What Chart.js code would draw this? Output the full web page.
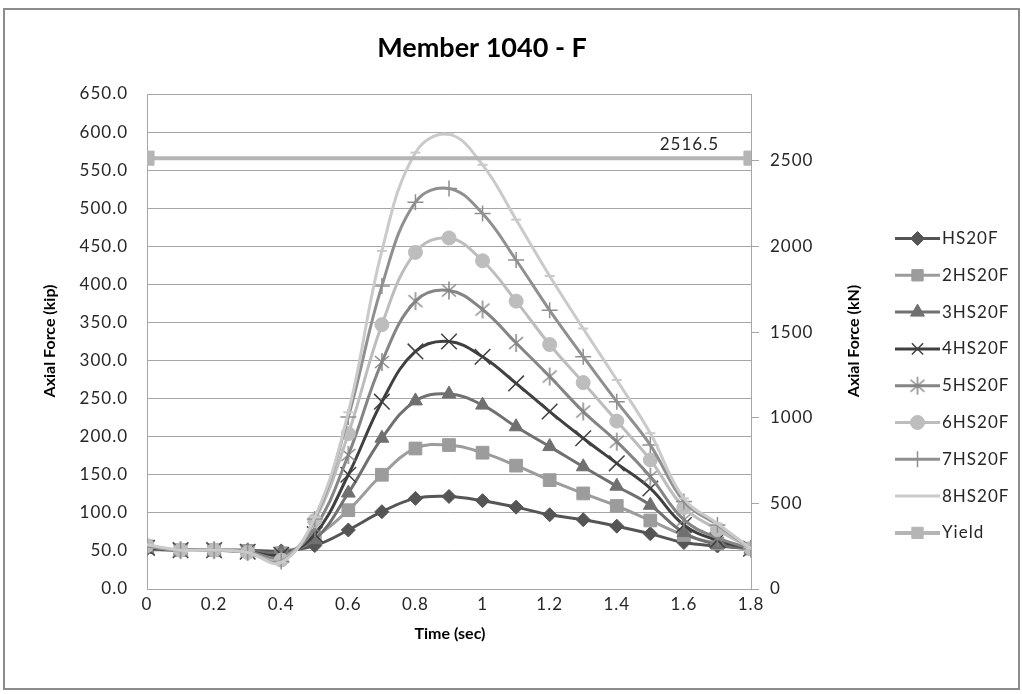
<!DOCTYPE html>
<html>
<head>
<meta charset="utf-8">
<title>Member 1040 - F</title>
<script src="https://cdn.jsdelivr.net/npm/chart.js@4.4.1/dist/chart.umd.min.js"></script>
<style>
  html, body { margin: 0; padding: 0; background: #ffffff; }
  canvas { display: block; }
</style>
</head>
<body>
<canvas id="chart" width="1022" height="694"></canvas>
<script>
// Time steps (sec)
const time = [0, 0.1, 0.2, 0.3, 0.4, 0.5, 0.6, 0.7, 0.8, 0.9, 1.0, 1.1, 1.2, 1.3, 1.4, 1.5, 1.6, 1.7, 1.8];

// Axial force per load case (kip)
const hs20f  = [53, 51, 51, 51, 50, 57,  77.5, 101.5, 119, 121.5, 116, 107.5,  97.5,  91,   82.5,  72.5,  61, 56.5, 53];
const hs20f2 = [56, 51, 51, 50, 47, 68, 103.5, 150,   184.5, 189, 179, 162,   143,   125.5, 109,   90,    71, 60,   53];
const hs20f3 = [52, 51, 51, 50, 48, 65, 126,   198,   247, 256,   241.5, 213, 187,   160.5, 135,   110,   74, 58.5, 53];
const hs20f4 = [54, 51, 51, 49, 45, 72, 150,   246,   312, 325,   305, 270,   233,   198,   165,   132,   84, 64,   53];
const hs20f5 = [55, 51, 51, 49, 42, 80, 176,   298,   378, 392,   367, 323,   279,   233,   193.5, 147.5, 91, 67,   53];
const hs20f6 = [57, 51, 51, 48, 38, 90, 204,   347,   442, 461,   431, 378,   321,   271,   220.5, 169.5, 107, 78,  53];
const hs20f7 = [56, 51, 51, 48, 36, 92, 226,   398,   508, 526,   493, 432,   366,   305,   246,   189,   115, 84,  53];
const hs20f8 = [58, 51, 51, 48, 35, 94, 232,   444,   573, 597,   557, 485,   411,   342,   274.5, 204.5, 119, 86,  53];

// Yield capacity (kN), drawn against the right axis
const yieldTime = [0, 1.8];
const yieldKN = [2516.5, 2516.5];

// Axis ticks
const kipTicks = [0, 50, 100, 150, 200, 250, 300, 350, 400, 450, 500, 550, 600, 650];
const kNTicks = [0, 500, 1000, 1500, 2000, 2500];
const timeTicks = [0, 0.2, 0.4, 0.6, 0.8, 1.0, 1.2, 1.4, 1.6, 1.8];

const KIP_TO_KN = 4.448;
const FONT = 'Lato, "Open Sans", sans-serif';
const TEXT = '#262626';
const GRID = '#a6a6a6';

// Asterisk marker: an "x" with a vertical bar through it
function asteriskMarker(color) {
  const c = document.createElement('canvas');
  c.width = 20; c.height = 20;
  const g = c.getContext('2d');
  g.strokeStyle = color;
  g.lineWidth = 1.5;
  g.beginPath();
  g.moveTo(3, 4); g.lineTo(17, 16);
  g.moveTo(17, 4); g.lineTo(3, 16);
  g.moveTo(10, 1); g.lineTo(10, 19);
  g.stroke();
  return c;
}

const seriesDefs = [
  { label: 'HS20F',  values: hs20f,  color: '#555555', style: 'rectRot',  radius: 7,  bw: 1 },
  { label: '2HS20F', values: hs20f2, color: '#9c9c9c', style: 'rect',     radius: 9,  bw: 1 },
  { label: '3HS20F', values: hs20f3, color: '#707070', style: 'triangle', radius: 8,  bw: 1 },
  { label: '4HS20F', values: hs20f4, color: '#404040', style: 'crossRot', radius: 11, bw: 1.5 },
  { label: '5HS20F', values: hs20f5, color: '#858585', style: asteriskMarker('#858585'), radius: 9, bw: 1.5 },
  { label: '6HS20F', values: hs20f6, color: '#bdbdbd', style: 'circle',   radius: 7,  bw: 1 },
  { label: '7HS20F', values: hs20f7, color: '#909090', style: 'cross',    radius: 8,  bw: 1.5 },
  { label: '8HS20F', values: hs20f8, color: '#cacaca', style: 'line',     radius: 5,  bw: 2 }
];

const datasets = seriesDefs.map((s, i) => ({
  label: s.label,
  data: time.map((t, k) => ({ x: t, y: s.values[k] })),
  yAxisID: 'y',
  borderColor: s.color,
  backgroundColor: s.color,
  borderWidth: 3,
  tension: 0.4,
  pointStyle: s.style,
  pointRadius: s.radius,
  pointBorderWidth: s.bw,
  pointBackgroundColor: s.color,
  pointBorderColor: s.color,
  order: 20 - i
}));

datasets.push({
  label: 'Yield',
  data: yieldTime.map((t, k) => ({ x: t, y: yieldKN[k] })),
  yAxisID: 'y2',
  borderColor: '#b5b5b5',
  backgroundColor: '#b5b5b5',
  borderWidth: 4,
  tension: 0,
  pointStyle: 'rect',
  pointRadius: 10,
  pointBorderWidth: 1,
  pointBackgroundColor: '#b5b5b5',
  pointBorderColor: '#b5b5b5',
  order: 0
});

const legendStyle = {
  'Yield': { style: 'rect', radius: 9, bw: 1, color: '#b5b5b5' }
};

// Page furniture: background, frame, title, axis titles, legend and value label
const decorations = {
  id: 'decorations',
  beforeDraw(chart) {
    const ctx = chart.ctx;
    ctx.save();
    ctx.fillStyle = '#ffffff';
    ctx.fillRect(0, 0, chart.width, chart.height);
    ctx.strokeStyle = '#8c8c8c';
    ctx.lineWidth = 2;
    ctx.strokeRect(4, 9, 1015, 680);
    ctx.restore();
    ctx.letterSpacing = '1px';
  },
  afterDraw(chart) {
    const ctx = chart.ctx;
    ctx.save();
    ctx.letterSpacing = '0px';
    ctx.fillStyle = '#000000';
    ctx.textAlign = 'center';
    ctx.textBaseline = 'middle';
    ctx.font = 'bold 27px ' + FONT;
    ctx.fillText('Member 1040 - F', 482, 48);

    ctx.font = 'bold 16px ' + FONT;
    ctx.fillText('Time (sec)', 450, 634);
    ctx.save();
    ctx.translate(50, 341);
    ctx.rotate(-Math.PI / 2);
    ctx.fillText('Axial Force (kip)', 0, 0);
    ctx.restore();
    ctx.save();
    ctx.translate(854, 341);
    ctx.rotate(-Math.PI / 2);
    ctx.fillText('Axial Force (kN)', 0, 0);
    ctx.restore();

    // value label on the yield line
    const ymeta = chart.getDatasetMeta(chart.data.datasets.length - 1);
    const last = ymeta.data[ymeta.data.length - 1];
    ctx.letterSpacing = '1px';
    ctx.font = '17px ' + FONT;
    ctx.fillStyle = TEXT;
    ctx.textAlign = 'right';
    ctx.fillText(yieldKN[yieldKN.length - 1].toFixed(1), last.x - 32, last.y - 14);

    // legend
    ctx.textAlign = 'left';
    chart.data.datasets.forEach((ds, i) => {
      const y = 238.5 + i * 36.8;
      const def = seriesDefs[i] || legendStyle[ds.label];
      const color = def.color;
      ctx.strokeStyle = color;
      ctx.fillStyle = color;
      ctx.lineWidth = ds.label === 'Yield' ? 4 : 3;
      ctx.beginPath();
      ctx.moveTo(895, y);
      ctx.lineTo(940, y);
      ctx.stroke();
      if (def.style !== 'line') {
        ctx.lineWidth = def.bw;
        Chart.helpers.drawPoint(ctx, {
          pointStyle: def.style,
          radius: Math.min(def.radius, 8),
          rotation: 0,
          borderWidth: def.bw
        }, 917.5, y);
      }
      ctx.fillStyle = TEXT;
      ctx.fillText(ds.label, 942, y);
    });
    ctx.restore();
  }
};

new Chart(document.getElementById('chart'), {
  type: 'line',
  data: { datasets },
  options: {
    responsive: false,
    animation: false,
    devicePixelRatio: 1,
    layout: { padding: { top: 94, left: 0, right: 0, bottom: 0 } },
    plugins: {
      legend: { display: false },
      tooltip: { enabled: false },
      title: { display: false }
    },
    scales: {
      x: {
        type: 'linear',
        min: 0,
        max: 1.8,
        afterBuildTicks: s => { s.ticks = timeTicks.map(v => ({ value: v })); },
        afterFit: s => { s.height = 105; },
        grid: { display: false, drawTicks: false },
        border: { display: true, color: GRID, width: 1 },
        ticks: {
          padding: 5,
          color: TEXT,
          font: { family: FONT, size: 17 },
          maxRotation: 0,
          autoSkip: false,
          callback: v => String(Number(v.toFixed(1)))
        }
      },
      y: {
        position: 'left',
        min: 0,
        max: 650,
        afterBuildTicks: s => { s.ticks = kipTicks.map(v => ({ value: v })); },
        afterFit: s => { s.width = 147; },
        grid: { color: GRID, lineWidth: 1, drawTicks: false },
        border: { display: true, color: GRID, width: 1 },
        ticks: {
          padding: 19,
          color: TEXT,
          font: { family: FONT, size: 17 },
          callback: v => v.toFixed(1)
        }
      },
      y2: {
        position: 'right',
        min: 0,
        max: 650 * KIP_TO_KN,
        afterBuildTicks: s => { s.ticks = kNTicks.map(v => ({ value: v })); },
        afterFit: s => { s.width = 271; },
        grid: { drawOnChartArea: false, drawTicks: true, tickLength: 8, color: GRID },
        border: { display: true, color: GRID, width: 1 },
        ticks: {
          padding: 11,
          color: TEXT,
          font: { family: FONT, size: 17 },
          callback: v => String(v)
        }
      }
    }
  },
  plugins: [decorations]
});
</script>
</body>
</html>
